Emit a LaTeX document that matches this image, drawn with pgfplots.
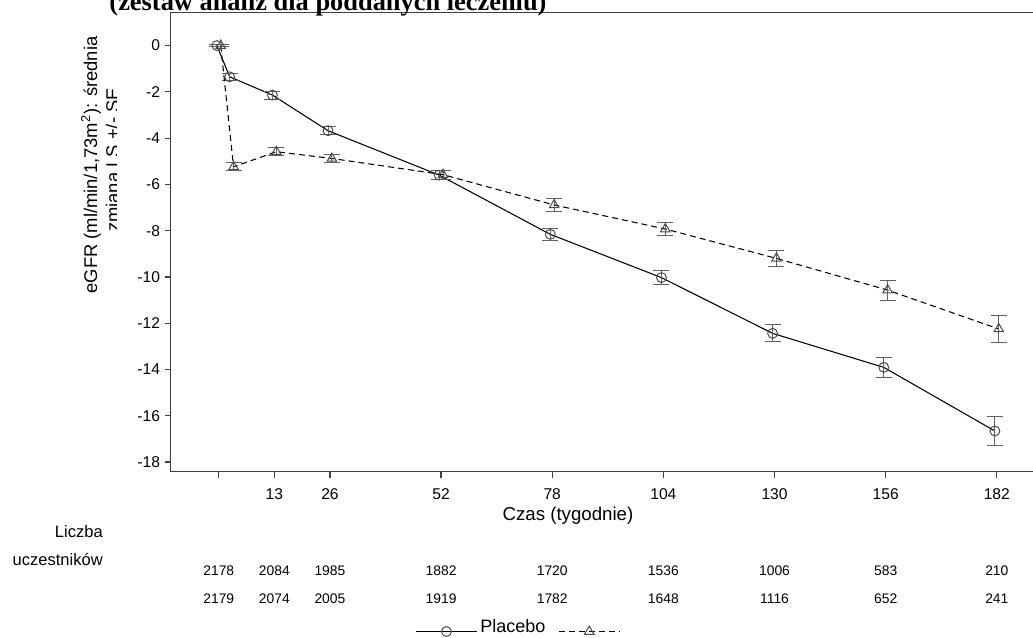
\documentclass[border=0pt]{standalone}
\usepackage{pgfplots}
\pgfplotsset{compat=1.18}
\usepackage{fontspec}
\setmainfont{Liberation Sans}
\newfontfamily\titlefont{Liberation Serif}
\definecolor{spine}{gray}{0.25}
\definecolor{mk}{gray}{0.3}
\definecolor{eb}{gray}{0.38}
\begin{document}
\begin{tikzpicture}
\begin{axis}[
  at={(128.025pt,-353.775pt)}, anchor=south west,
  scale only axis, width=651.975pt, height=344.25pt,
  xmin=-11.25, xmax=192.1, ymin=-18.42, ymax=1.42,
  xtick={0,13,26,52,78,104,130,156,182},
  xticklabels={,13,26,52,78,104,130,156,182},
  ytick={-18,-16,-14,-12,-10,-8,-6,-4,-2,0},
  tick align=outside, tick pos=left,
  major tick length=4.5pt,
  axis line style={draw=spine, line width=0.9pt},
  every tick/.style={draw=spine, line width=0.9pt},
  ticklabel style={font=\fontsize{11.7}{14}\selectfont},
  xticklabel style={yshift=-5pt},
  /pgf/number format/assume math mode=true,
  clip=false,
  legend columns=2,
  legend image code/.code={\draw[mark repeat=2,mark phase=2,#1,yshift=-3.5pt] plot coordinates {(0pt,0pt) (23pt,0pt) (46pt,0pt)};},
  legend style={at={(0.281,-0.338)}, anchor=west, draw=none, fill=none,
    inner sep=0pt, column sep=0pt, font=\fontsize{13.5}{16}\selectfont,
    nodes={inner sep=2pt},
    /tikz/every even column/.append style={column sep=7.5pt}},
]
\addplot[black, line width=0.8pt, mark=o, mark size=3.7pt,
  mark options={draw=mk, solid, line width=0.75pt},
  error bars/.cd, y dir=both, y explicit,
  error bar style={draw=eb, line width=0.75pt, solid},
  error mark options={rotate=90, mark size=6pt, draw=eb, line width=0.75pt, solid}]
  table[x=x, y=y, y error=e] {
x y e
-0.45 0 0.04
2.55 -1.35 0.15
12.55 -2.14 0.17
25.55 -3.68 0.17
51.55 -5.60 0.19
77.55 -8.16 0.25
103.55 -10.03 0.30
129.55 -12.44 0.37
155.55 -13.91 0.44
181.55 -16.66 0.61
};
\addlegendentry{Placebo}
\addplot[black, line width=0.8pt, dash pattern=on 4.5pt off 3pt, mark=triangle, mark size=4.1pt,
  mark options={draw=mk, solid, line width=0.75pt},
  error bars/.cd, y dir=both, y explicit,
  error bar style={draw=eb, line width=0.75pt, solid},
  error mark options={rotate=90, mark size=6pt, draw=eb, line width=0.75pt, solid}]
  table[x=x, y=y, y error=e] {
x y e
0.45 0 0.04
3.45 -5.24 0.17
13.45 -4.59 0.18
26.45 -4.88 0.18
52.45 -5.58 0.20
78.45 -6.89 0.27
104.45 -7.93 0.30
130.45 -9.20 0.35
156.45 -10.57 0.43
182.45 -12.25 0.57
};
\addlegendentry{}
% numbers at risk
\begin{scope}[every node/.style={font=\fontsize{10.4}{12}\selectfont, anchor=base}]
\node at (axis cs:0,-22.885) {2178};
\node at (axis cs:13,-22.885) {2084};
\node at (axis cs:26,-22.885) {1985};
\node at (axis cs:52,-22.885) {1882};
\node at (axis cs:78,-22.885) {1720};
\node at (axis cs:104,-22.885) {1536};
\node at (axis cs:130,-22.885) {1006};
\node at (axis cs:156,-22.885) {583};
\node at (axis cs:182,-22.885) {210};
\node at (axis cs:0,-24.095) {2179};
\node at (axis cs:13,-24.095) {2074};
\node at (axis cs:26,-24.095) {2005};
\node at (axis cs:52,-24.095) {1919};
\node at (axis cs:78,-24.095) {1782};
\node at (axis cs:104,-24.095) {1648};
\node at (axis cs:130,-24.095) {1116};
\node at (axis cs:156,-24.095) {652};
\node at (axis cs:182,-24.095) {241};
\end{scope}
\end{axis}
\begin{scope}[x=0.75pt, y=-0.75pt]
\node[anchor=base, inner sep=0pt, font=\titlefont\bfseries\fontsize{19.8}{22}\selectfont] at (328,10) {(zestaw analiz dla poddanych leczeniu)};
\node[anchor=base, inner sep=0pt, font=\fontsize{14}{16}\selectfont] at (568,520) {Czas (tygodnie)};
\node[anchor=base, inner sep=0pt, rotate=90, font=\fontsize{13.8}{16}\selectfont] at (97,165) {eGFR (ml/min/1,73m\textsuperscript{2}): średnia};
\begin{scope}
\clip (0,0) rectangle (116,637);
\node[anchor=base, inner sep=0pt, rotate=90, font=\fontsize{13.8}{16}\selectfont] at (119,160) {zmiana LS +/- SE};
\end{scope}
\node[anchor=base east, inner sep=0pt, font=\fontsize{12.4}{14}\selectfont] at (103,537) {Liczba};
\node[anchor=base east, inner sep=0pt, font=\fontsize{12.4}{14}\selectfont] at (103,565) {uczestników};
\pgfresetboundingbox
\useasboundingbox (0,0) rectangle (1033,637);
\end{scope}
\end{tikzpicture}
\end{document}
